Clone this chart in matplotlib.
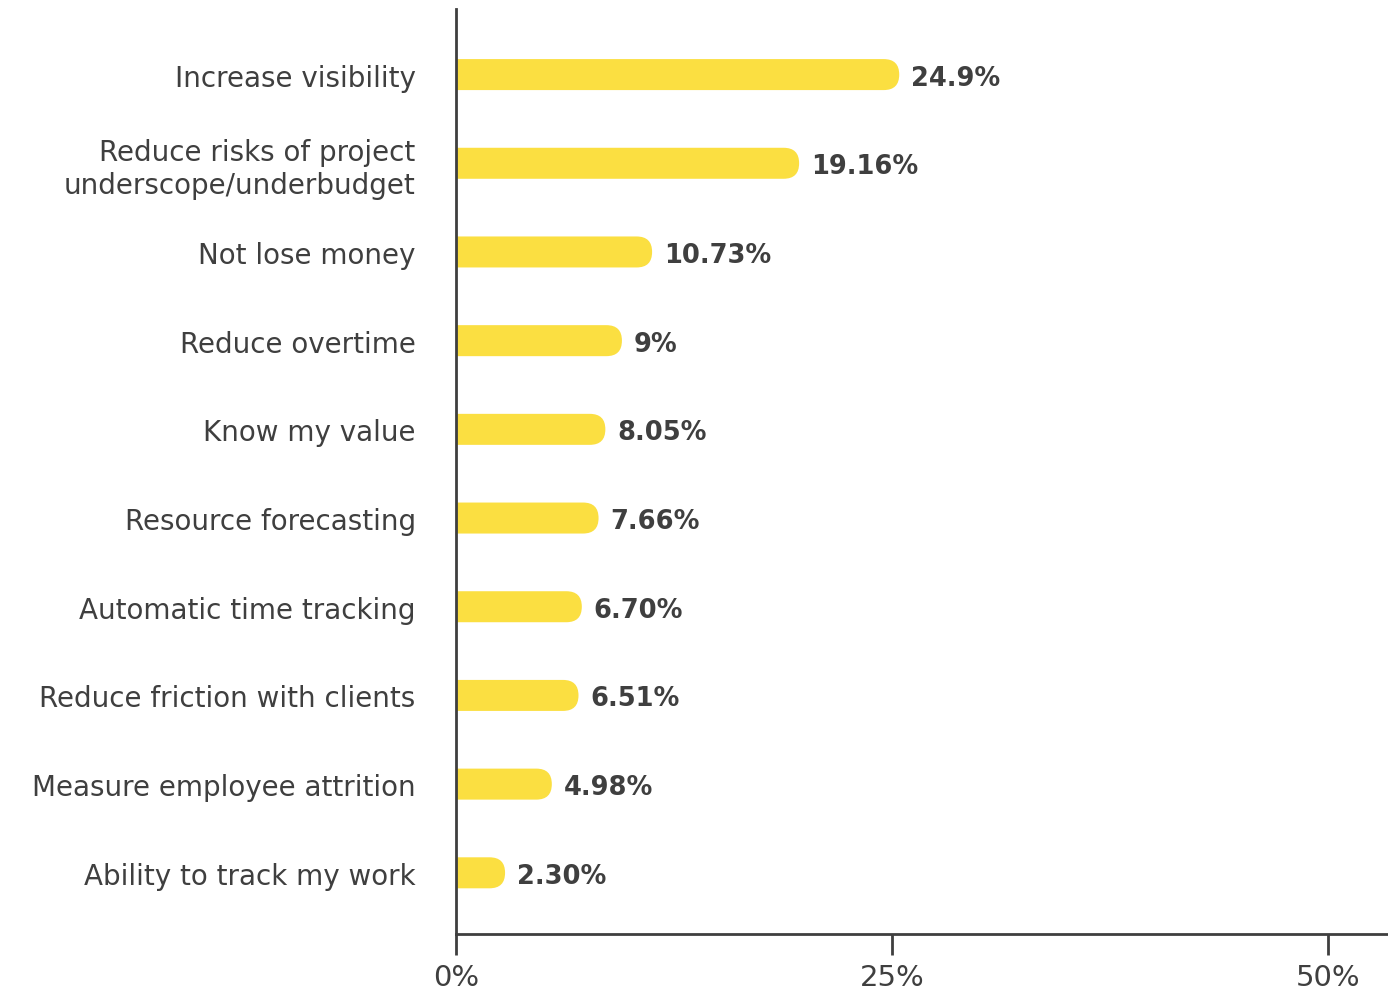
import matplotlib.pyplot as plt
from matplotlib.patches import FancyBboxPatch

# Datos
categorias = [
    "Increase visibility",
    "Reduce risks of project\nunderscope/underbudget",
    "Not lose money",
    "Reduce overtime",
    "Know my value",
    "Resource forecasting",
    "Automatic time tracking",
    "Reduce friction with clients",
    "Measure employee attrition",
    "Ability to track my work",
]
valores = [24.9, 19.16, 10.73, 9, 8.05, 7.66, 6.70, 6.51, 4.98, 2.30]
etiquetas = ["24.9%", "19.16%", "10.73%", "9%", "8.05%", "7.66%", "6.70%", "6.51%", "4.98%", "2.30%"]
ticks = [0, 25, 50]
tick_labels = ["0%", "25%", "50%"]

amarillo = "#FBDF41"
gris = "#3f3f3f"

plt.rcParams['font.family'] = ['DejaVu Sans']

fig = plt.figure(figsize=(13.88, 9.95), dpi=100)
ax = fig.add_axes([0.3285, 0.0603, 0.6715, 0.9297])

ax.set_xlim(0, 53.44)
ax.set_ylim(len(valores) - 1 + 0.69, -0.74)

# Relación de escalas para redondear sólo el extremo derecho
fig.canvas.draw()
p0 = ax.transData.transform((0, 0))
p1 = ax.transData.transform((1, 1))
px_x = abs(p1[0] - p0[0])
px_y = abs(p1[1] - p0[1])
aspecto = px_x / px_y

alto_px = 31
alto = alto_px / px_y
radio = (alto_px / 2) / px_x
extra = 9 / px_x  # la punta redondeada sobresale un poco

for i, v in enumerate(valores):
    barra = FancyBboxPatch((-radio * 2, i - alto / 2), v + extra + radio * 2, alto,
                           boxstyle="round,pad=0,rounding_size=%f" % radio,
                           mutation_aspect=aspecto,
                           facecolor=amarillo, edgecolor="none", clip_on=True)
    ax.add_patch(barra)
    ax.text(v + extra + 12 / px_x, i, etiquetas[i], va="center_baseline", ha="left",
            fontsize=18.5, fontweight="bold", color=gris)

ax.set_yticks(range(len(categorias)))
ax.set_yticklabels(categorias, fontsize=20, color=gris, linespacing=1.2)
ax.tick_params(axis="y", length=0, pad=29)

ax.set_xticks(ticks)
ax.set_xticklabels(tick_labels, fontsize=21, color=gris)
ax.tick_params(axis="x", length=15, width=2, color=gris, pad=6)

for lado in ["top", "right"]:
    ax.spines[lado].set_visible(False)
for lado in ["left", "bottom"]:
    ax.spines[lado].set_linewidth(2)
    ax.spines[lado].set_color(gris)

fig.savefig("out.png", dpi=100)
